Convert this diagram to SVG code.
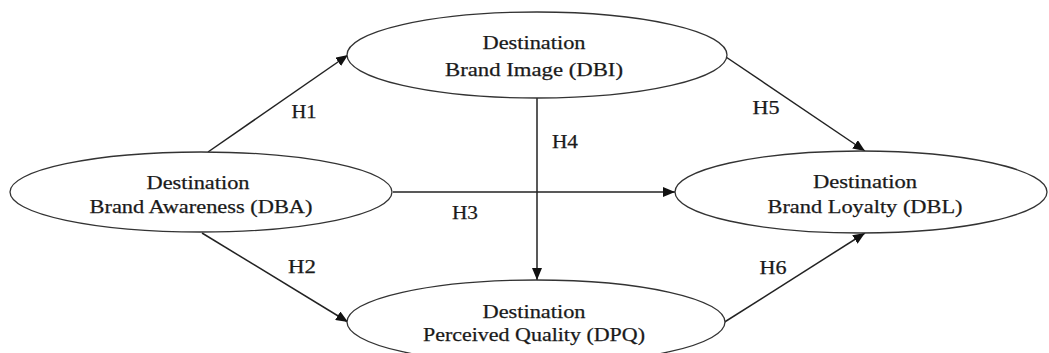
<svg xmlns="http://www.w3.org/2000/svg" width="1049" height="353" viewBox="0 0 1049 353">
<style>
.node{fill:#fff;stroke:#333;stroke-width:1.3}
.t{font-family:"Liberation Serif","Times New Roman",serif;font-size:18.5px;fill:#1a1a1a;text-anchor:middle;stroke:#1a1a1a;stroke-width:0.25}
.h{font-family:"Liberation Serif","Times New Roman",serif;font-size:18px;fill:#1a1a1a;text-anchor:middle;stroke:#1a1a1a;stroke-width:0.25}
.c{stroke:#222;stroke-width:1.5;fill:none}
</style>
<defs>
<marker id="arr" viewBox="0 0 12 10" refX="12" refY="5" markerWidth="12" markerHeight="10" markerUnits="userSpaceOnUse" orient="auto">
<path d="M0,0 L12,5 L0,10 z" fill="#111"/>
</marker>
</defs>
<rect width="1049" height="353" fill="#fff"/>
<g id="connectors">
<line class="c" x1="208" y1="152" x2="348" y2="55" marker-end="url(#arr)"/>
<line class="c" x1="202" y1="233" x2="348" y2="322" marker-end="url(#arr)"/>
<line class="c" x1="393" y1="192" x2="675" y2="192" marker-end="url(#arr)"/>
<line class="c" x1="537" y1="98" x2="537" y2="280" marker-end="url(#arr)"/>
<line class="c" x1="723" y1="55" x2="865" y2="151" marker-end="url(#arr)"/>
<line class="c" x1="723" y1="323" x2="865" y2="233" marker-end="url(#arr)"/>
<text class="h" x="304" y="118" textLength="25" lengthAdjust="spacingAndGlyphs">H1</text>
<text class="h" x="302" y="273" textLength="28" lengthAdjust="spacingAndGlyphs">H2</text>
<text class="h" x="465" y="219" textLength="26" lengthAdjust="spacingAndGlyphs">H3</text>
<text class="h" x="565" y="148" textLength="26" lengthAdjust="spacingAndGlyphs">H4</text>
<text class="h" x="766" y="114" textLength="27" lengthAdjust="spacingAndGlyphs">H5</text>
<text class="h" x="773" y="274" textLength="27" lengthAdjust="spacingAndGlyphs">H6</text>
</g>
<g id="DBA">
<ellipse class="node" cx="201" cy="192" rx="191" ry="40"/>
<text class="t" x="198" y="189" textLength="103" lengthAdjust="spacingAndGlyphs">Destination</text>
<text class="t" x="201" y="213" textLength="223" lengthAdjust="spacingAndGlyphs">Brand Awareness (DBA)</text>
</g>
<g id="DBI">
<ellipse class="node" cx="537" cy="55" rx="190" ry="43"/>
<text class="t" x="534" y="49" textLength="103" lengthAdjust="spacingAndGlyphs">Destination</text>
<text class="t" x="534" y="76" textLength="178" lengthAdjust="spacingAndGlyphs">Brand Image (DBI)</text>
</g>
<g id="DBL">
<ellipse class="node" cx="861" cy="192" rx="186" ry="41"/>
<text class="t" x="865" y="188" textLength="104" lengthAdjust="spacingAndGlyphs">Destination</text>
<text class="t" x="865" y="213" textLength="195" lengthAdjust="spacingAndGlyphs">Brand Loyalty (DBL)</text>
</g>
<g id="DPQ">
<ellipse class="node" cx="536" cy="322" rx="189" ry="42"/>
<text class="t" x="534" y="318" textLength="103" lengthAdjust="spacingAndGlyphs">Destination</text>
<text class="t" x="534" y="341" textLength="222" lengthAdjust="spacingAndGlyphs">Perceived Quality (DPQ)</text>
</g>
</svg>
